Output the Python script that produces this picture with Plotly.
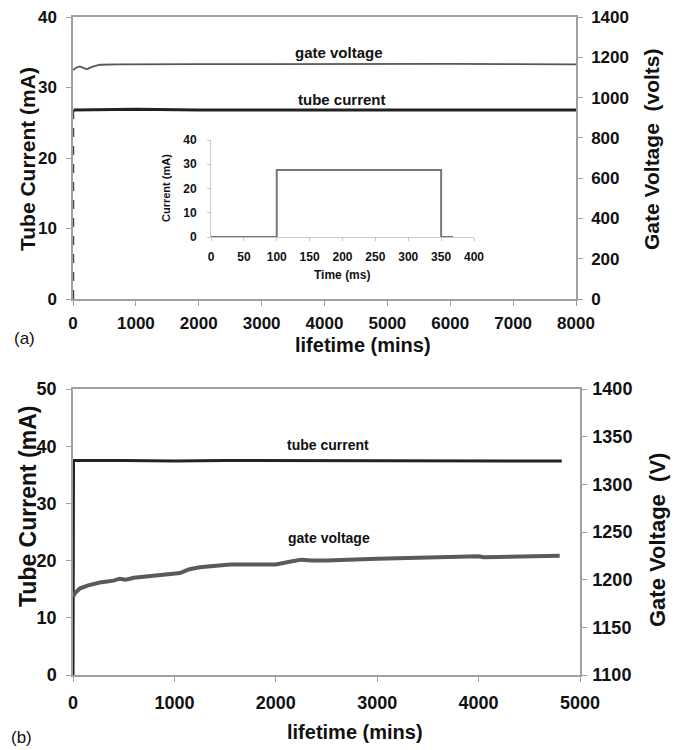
import plotly.graph_objects as go

# ---------------- data ----------------
# Panel (a)
a_gate_t = [0, 50, 110, 160, 220, 300, 430, 700, 1000, 2000, 3000, 4000, 5000, 6000, 7000, 8000]
a_gate_v = [1137, 1148, 1155, 1148, 1140, 1152, 1163, 1165, 1166, 1166, 1166, 1167, 1166, 1167, 1166, 1165]
a_cur_t = [10, 10, 1000, 2000, 3000, 4000, 5000, 6000, 7000, 8000]
a_cur_ma = [0, 26.8, 26.9, 26.8, 26.8, 26.9, 26.8, 26.8, 26.8, 26.8]

# Inset (pulse)
in_t = [0, 100, 100, 350, 350, 368]
in_ma = [0, 0, 27.6, 27.6, 0, 0]

# Panel (b)
b_cur_t = [0, 5, 500, 1000, 1500, 2000, 2500, 3000, 3500, 4000, 4500, 4820]
b_cur_ma = [0, 37.5, 37.5, 37.4, 37.5, 37.5, 37.5, 37.4, 37.5, 37.5, 37.4, 37.4]
b_gate_t = [0, 20, 70, 150, 265, 400, 460, 520, 600, 760, 900, 1055, 1100, 1150, 1250, 1400,
            1550, 1850, 2000, 2150, 2250, 2350, 2500, 3000, 3500, 4000, 4050, 4500, 4800]
b_gate_v = [1182, 1186, 1191, 1194, 1197, 1199, 1201, 1200, 1202, 1204, 1205, 1207, 1209, 1211, 1213, 1215,
            1216, 1216, 1216, 1219, 1221, 1220, 1220, 1222, 1223, 1224.5, 1223.5, 1224, 1225]

a_x_ticks = [0, 1000, 2000, 3000, 4000, 5000, 6000, 7000, 8000]
b_x_ticks = [0, 1000, 2000, 3000, 4000, 5000]

W, H = 675, 750
def px(x): return x / W
def py(y): return 1 - y / H

FONT = "Liberation Sans, Arial, sans-serif"
AX = "#a0a0a0"

fig = go.Figure()

# panel (a)
fig.add_trace(go.Scatter(x=a_gate_t, y=a_gate_v, mode="lines", xaxis="x", yaxis="y2",
                         line=dict(color="#555555", width=1.8), showlegend=False))
fig.add_trace(go.Scatter(x=a_cur_t[:2], y=a_cur_ma[:2], mode="lines", xaxis="x", yaxis="y",
                         line=dict(color="#444444", width=1.2, dash="dash"), showlegend=False))
fig.add_trace(go.Scatter(x=a_cur_t[1:], y=a_cur_ma[1:], mode="lines", xaxis="x", yaxis="y",
                         line=dict(color="#222222", width=3), showlegend=False))
# inset
fig.add_trace(go.Scatter(x=in_t, y=in_ma, mode="lines", xaxis="x3", yaxis="y5",
                         line=dict(color="#777777", width=2), showlegend=False))
# panel (b)
fig.add_trace(go.Scatter(x=b_cur_t, y=b_cur_ma, mode="lines", xaxis="x2", yaxis="y3",
                         line=dict(color="#222222", width=3), showlegend=False))
fig.add_trace(go.Scatter(x=b_gate_t, y=b_gate_v, mode="lines", xaxis="x2", yaxis="y4",
                         line=dict(color="#5a5a5a", width=4), showlegend=False))

tf_a = dict(family=FONT, size=17, color="#111111", weight="bold")
tf_b = dict(family=FONT, size=18, color="#111111", weight="bold")
tf_in = dict(family=FONT, size=12, color="#111111", weight="bold")

common = dict(showline=True, linecolor=AX, linewidth=1.5, ticks="outside", ticklen=5,
              tickcolor=AX, showgrid=False, zeroline=False, fixedrange=True)

fig.update_layout(
    width=W, height=H, margin=dict(l=0, r=0, t=0, b=0), autosize=False,
    paper_bgcolor="white", plot_bgcolor="white", template="none",
    xaxis=dict(domain=[px(73), px(576)], anchor="y", range=[0, 8000], tickvals=a_x_ticks,
               mirror=True, tickfont=tf_a, ticklabelstandoff=3, **common),
    yaxis=dict(domain=[py(299), py(17)], anchor="x", range=[0, 40], dtick=10,
               tickfont=tf_a, ticklabelstandoff=6, **common),
    yaxis2=dict(overlaying="y", side="right", anchor="x", range=[0, 1400], dtick=200,
                tickfont=tf_a, ticklabelstandoff=5, **common),
    xaxis2=dict(domain=[px(73), px(580)], anchor="y3", range=[0, 5000], tickvals=b_x_ticks,
                mirror=True, tickfont=tf_b, ticklabelstandoff=6, **common),
    yaxis3=dict(domain=[py(675), py(389)], anchor="x2", range=[0, 50], dtick=10,
                tickfont=tf_b, ticklabelstandoff=6, **common),
    yaxis4=dict(overlaying="y3", side="right", anchor="x2", range=[1100, 1400], dtick=50,
                tickfont=tf_b, ticklabelstandoff=2, **common),
    xaxis3=dict(domain=[px(211), px(474)], anchor="y5", range=[0, 400], dtick=50,
                showline=True, linecolor="#c8c8c8", linewidth=1, ticks="outside", ticklen=3,
                tickcolor="#c8c8c8", showgrid=False, zeroline=False, tickfont=tf_in,
                ticklabelstandoff=6),
    yaxis5=dict(domain=[py(237), py(140)], anchor="x3", range=[0, 40], dtick=10,
                showline=True, linecolor="#c8c8c8", linewidth=1, ticks="outside", ticklen=3,
                tickcolor="#c8c8c8", showgrid=False, zeroline=False, tickfont=tf_in,
                ticklabelstandoff=8),
)

def ann(text, x, y, size, angle=0, bold=True, family=FONT, color="#111111"):
    fig.add_annotation(text=text, x=px(x), y=py(y), xref="paper", yref="paper",
                       showarrow=False, textangle=angle, xanchor="center", yanchor="middle",
                       font=dict(family=family, size=size, color=color,
                                 weight="bold" if bold else "normal"))

# panel (a) texts
ann("Tube Current (mA)", 28, 159, 21, angle=-90)
ann("Gate Voltage  (volts)", 652, 150, 21, angle=-90)
ann("lifetime (mins)", 363, 345, 20)
ann("(a)", 24, 338, 17, bold=False)
ann("gate voltage", 339, 52, 15)
ann("tube current", 342, 99, 15)
ann("Current (mA)", 166, 188, 11, angle=-90)
ann("Time (ms)", 342, 275, 12)

# panel (b) texts
ann("Tube Current (mA)", 28, 507, 23, angle=-90)
ann("Gate Voltage  (V)", 657, 540, 22, angle=-90)
ann("lifetime (mins)", 355, 732, 20)
ann("(b)", 22, 737, 17, bold=False)
ann("tube current", 328, 445, 14)
ann("gate voltage", 329, 538, 14)

fig.write_html("out.html", config={"displayModeBar": False},
               post_script="document.body.style.margin='0px';document.body.style.overflow='hidden';")
